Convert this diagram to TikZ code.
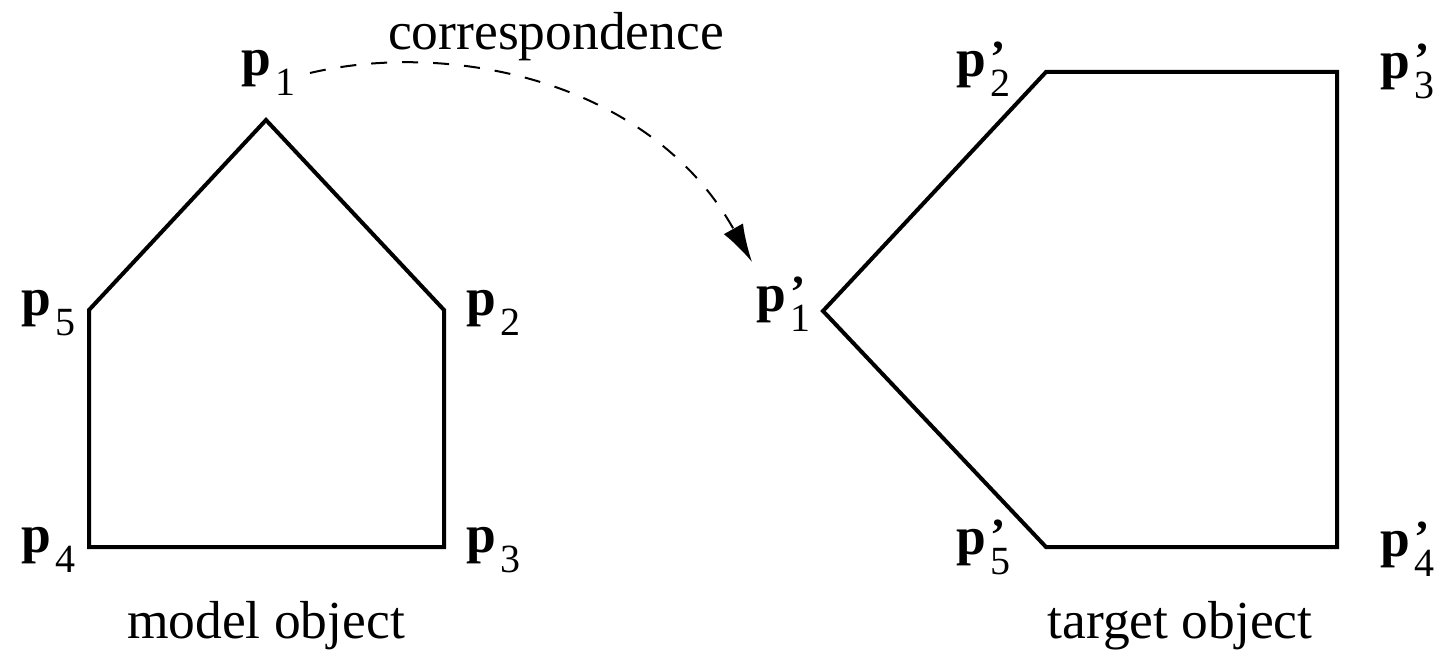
\documentclass[tikz,border=0pt]{standalone}
\usepackage{fontspec}
\setmainfont{Liberation Serif}
\usetikzlibrary{arrows.meta}
\newcommand{\plab}[2]{\textbf{p}\hspace{5pt}\makebox[0pt][l]{\raisebox{4pt}{\fontsize{46}{46}\selectfont\bfseries #2}}\raisebox{-20pt}{\fontsize{40}{40}\selectfont #1}}
\begin{document}
\begin{tikzpicture}[x=1pt,y=-1pt,
  shape line/.style={line width=4pt, line join=miter},
  lab/.style={anchor=base west, inner sep=0pt, font=\fontsize{53.5}{60}\selectfont},
  caption/.style={anchor=base, inner sep=0pt, font=\fontsize{53.5}{60}\selectfont},
  corr/.style={line width=2pt, dash pattern=on 16pt off 15pt, -{Latex[length=38pt,width=22pt]}}]
\useasboundingbox (0,0) rectangle (1437,652);
% model object
\coordinate (a1) at (266,120);
\coordinate (a2) at (444,310);
\coordinate (a3) at (444,547);
\coordinate (a4) at (89,547);
\coordinate (a5) at (89,310);
\draw[shape line] (a1) -- (a2) -- (a3) -- (a4) -- (a5) -- cycle;
% target object
\coordinate (b1) at (823,311);
\coordinate (b2) at (1046,72);
\coordinate (b3) at (1337,72);
\coordinate (b4) at (1337,547);
\coordinate (b5) at (1046,547);
\draw[shape line] (b1) -- (b2) -- (b3) -- (b4) -- (b5) -- cycle;
% labels
\node[lab] (l1) at (241,76) {\plab{1}{}};
\node[lab] (l2) at (466,316) {\plab{2}{}};
\node[lab] (l3) at (466,552) {\plab{3}{}};
\node[lab] (l4) at (21,552) {\plab{4}{}};
\node[lab] (l5) at (21,316) {\plab{5}{}};
\node[lab] (m1) at (756,312) {\plab{1}{’}};
\node[lab] (m2) at (956,77) {\plab{2}{’}};
\node[lab] (m3) at (1380,79) {\plab{3}{’}};
\node[lab] (m4) at (1380,556) {\plab{4}{’}};
\node[lab] (m5) at (956,554) {\plab{5}{’}};
\node[caption] (cm) at (266,638) {model object};
\node[caption] (ct) at (1180,638) {target object};
\node[caption] (cc) at (556,50) {correspondence};
% correspondence arrow
\coordinate (cs) at (310,73);
\coordinate (ce) at (752,262);
\draw[corr] (cs) .. controls (450,40) and (650,80) .. (ce);
\end{tikzpicture}
\end{document}
